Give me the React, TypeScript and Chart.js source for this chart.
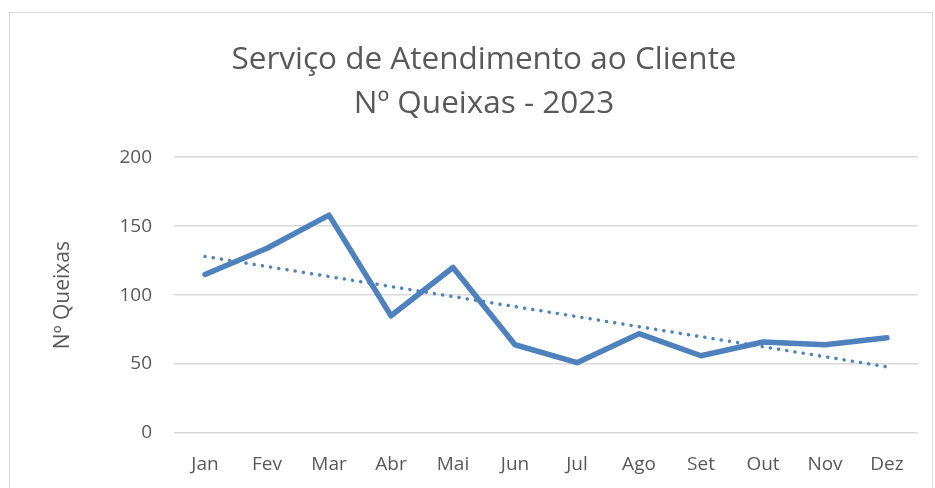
import React, { useEffect, useRef } from "react";
import { Chart, registerables } from "chart.js";

Chart.register(...registerables);

const months = ["Jan", "Fev", "Mar", "Abr", "Mai", "Jun", "Jul", "Ago", "Set", "Out", "Nov", "Dez"];
const complaints = [115, 134, 158, 85, 120, 64, 51, 72, 56, 66, 64, 69];
const trendline = [128, null, null, null, null, null, null, null, null, null, null, 48];
const titleLines = ["Serviço de Atendimento ao Cliente", "Nº Queixas - 2023"];
const yAxisTitle = "Nº Queixas";

const FONT = "'Open Sans', 'Liberation Sans', sans-serif";
const GREY = "#595959";
const BLUE = "#4F81BD";

export default function App() {
  const ref = useRef<HTMLCanvasElement | null>(null);
  useEffect(() => {
    if (!ref.current) return;
    const chart = new Chart(ref.current, {
      type: "line",
      data: {
        labels: months,
        datasets: [
          {
            label: "Nº Queixas",
            data: complaints,
            borderColor: BLUE,
            borderWidth: 5.5,
            pointRadius: 0,
            tension: 0,
            borderCapStyle: "round",
            borderJoinStyle: "round",
          },
          {
            label: "Tendência",
            data: trendline,
            borderColor: BLUE,
            borderWidth: 3.5,
            borderDash: [0.1, 8.2],
            borderCapStyle: "round",
            pointRadius: 0,
            spanGaps: true,
          },
        ],
      },
      options: {
        animation: false,
        responsive: true,
        maintainAspectRatio: false,
        layout: { padding: { left: 50, right: 17, top: 30, bottom: 0 } },
        plugins: {
          legend: { display: false },
          tooltip: { enabled: false },
          title: {
            display: true,
            text: titleLines,
            color: GREY,
            font: { family: FONT, size: 31.5, weight: "400", lineHeight: 1.4 },
            padding: { top: 8, bottom: 31 },
          },
        },
        scales: {
          x: {
            offset: true,
            grid: { display: false, drawTicks: false },
            border: { display: false },
            ticks: { color: GREY, font: { family: FONT, size: 19 }, padding: 20, maxRotation: 0 },
            afterFit: (scale: any) => {
              scale.height = 55;
            },
          },
          y: {
            min: 0,
            max: 200,
            grid: { color: "#d9d9d9", lineWidth: 1.5, drawTicks: false },
            border: { display: false },
            ticks: { stepSize: 50, color: GREY, font: { family: FONT, size: 19 }, padding: 22 },
            title: {
              display: true,
              text: yAxisTitle,
              color: GREY,
              font: { family: FONT, size: 21 },
              padding: { top: 0, bottom: 20 },
            },
            afterFit: (scale: any) => {
              scale.width = 124;
            },
          },
        },
      },
    });
    return () => chart.destroy();
  }, []);
  return (
    <div style={{ position: "fixed", left: 0, top: 0, width: 935, height: 488, background: "#fff" }}>
      <div
        style={{
          position: "absolute",
          left: 9,
          top: 12,
          width: 924,
          height: 500,
          border: "1.5px solid #d9d9d9",
          boxSizing: "border-box",
        }}
      />
      <div style={{ position: "absolute", left: 0, top: 0, width: 935, height: 488 }}>
        <canvas ref={ref} />
      </div>
    </div>
  );
}
